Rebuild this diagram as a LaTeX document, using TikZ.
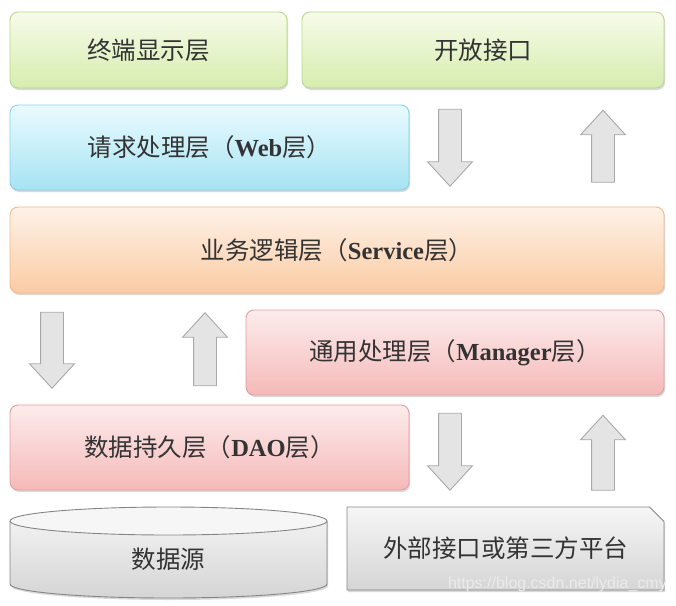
\documentclass[tikz,border=0pt]{standalone}
\usepackage{fontspec}
\setmainfont{Liberation Serif}
\newfontfamily\cjk{Noto Sans CJK SC}
\newfontfamily\wm{Liberation Sans}
\usetikzlibrary{shapes.arrows,shapes.misc,shadows}
\definecolor{txt}{HTML}{333333}
\definecolor{grnT}{HTML}{F7FBEA}
\definecolor{grnB}{HTML}{D6EDAE}
\definecolor{grnD}{HTML}{B9D88E}
\definecolor{bluT}{HTML}{EAFBFE}
\definecolor{bluB}{HTML}{A6E3F3}
\definecolor{bluD}{HTML}{8ACFE6}
\definecolor{orgT}{HTML}{FEF2E7}
\definecolor{orgB}{HTML}{FBCBA4}
\definecolor{orgD}{HTML}{F2B98C}
\definecolor{pnkT}{HTML}{FDECEC}
\definecolor{pnkB}{HTML}{F5B9B9}
\definecolor{pnkD}{HTML}{E29E9E}
\definecolor{gryT}{HTML}{F6F6F6}
\definecolor{gryB}{HTML}{D5D5D5}
\definecolor{gryD}{HTML}{858585}
\definecolor{arF}{HTML}{E4E4E4}
\definecolor{arD}{HTML}{A8A8A8}
\begin{document}
\begin{tikzpicture}[x=1pt,y=-1pt,
  layer/.style={rounded corners=8pt, line width=0.9pt, inner sep=0pt,
    drop shadow={shadow xshift=1.2pt, shadow yshift=-2pt, opacity=0.25, fill=black!60},
    font=\cjk\fontsize{24.5}{28}\selectfont, text=txt},
  green/.style={layer, draw=grnD, top color=grnT, bottom color=grnB},
  blue/.style={layer, draw=bluD, top color=bluT, bottom color=bluB},
  orange/.style={layer, draw=orgD, top color=orgT, bottom color=orgB},
  pink/.style={layer, draw=pnkD, top color=pnkT, bottom color=pnkB},
  flow/.style={single arrow, draw=arD, fill=arF, line width=0.9pt,
    inner xsep=0pt, inner ysep=11pt,
    single arrow head extend=11pt, single arrow tip angle=85},
]
\useasboundingbox (0,0) rectangle (676,605);

% layers
\node[green, minimum width=277pt, minimum height=76pt] (term) at (148.5,50) {终端显示层};
\node[green, minimum width=362pt, minimum height=76pt] (open) at (483,50) {开放接口};
\node[blue, minimum width=399pt, minimum height=85pt] (web) at (209.5,147.5)
  {请求处理层（{\rmfamily\bfseries Web}层）};
\node[orange, minimum width=654pt, minimum height=86pt] (svc) at (337,250)
  {业务逻辑层（{\rmfamily\bfseries Service}层）};
\node[pink, minimum width=418pt, minimum height=85pt] (mgr) at (455,352.5)
  {通用处理层（{\rmfamily\bfseries Manager}层）};
\node[pink, minimum width=399pt, minimum height=85pt] (dao) at (209.5,447.5)
  {数据持久层（{\rmfamily\bfseries DAO}层）};

% arrows
\node[flow, rotate=-90, minimum height=77pt] (a1) at (450,141.5) {};
\node[flow, rotate=90, minimum height=72pt] (a2) at (603,152.5) {};
\node[flow, rotate=-90, minimum height=76pt] (a3) at (52,344) {};
\node[flow, rotate=90, minimum height=73pt] (a4) at (205,355.5) {};
\node[flow, rotate=-90, minimum height=77pt] (a5) at (450,445.5) {};
\node[flow, rotate=90, minimum height=75pt] (a6) at (603,459) {};

% data source cylinder
\path[drop shadow={shadow xshift=1.2pt, shadow yshift=-2pt, opacity=0.25, fill=black!60},
      top color=gryT, bottom color=gryB]
  (10,521) -- (10,584) arc[start angle=180, end angle=360, x radius=158.5pt, y radius=14pt]
  -- (327,521) arc[start angle=0, end angle=180, x radius=158.5pt, y radius=14pt] -- cycle;
\draw[draw=gryD, line width=0.9pt]
  (10,521) -- (10,584) arc[start angle=180, end angle=360, x radius=158.5pt, y radius=14pt]
  -- (327,521);
\draw[draw=gryD, line width=0.9pt, fill=gryT] (168.5,521) ellipse[x radius=158.5pt, y radius=14pt];
\node[font=\cjk\fontsize{24.5}{28}\selectfont, text=txt] (ds) at (168.5,559) {数据源};

% external interface
\node[chamfered rectangle, chamfered rectangle corners=north east,
      chamfered rectangle xsep=13pt, draw=gryD, line width=0.9pt, inner sep=0pt,
      top color=gryT, bottom color=gryB,
      drop shadow={shadow xshift=1.2pt, shadow yshift=-2pt, opacity=0.25, fill=black!60},
      minimum width=317pt, minimum height=83pt,
      font=\cjk\fontsize{24.5}{28}\selectfont, text=txt] (ext) at (505.5,548.5) {外部接口或第三方平台};

% watermark
\node[anchor=east, inner sep=0pt, font=\wm\fontsize{16}{18}\selectfont, text=white!92!black] (wm) at (667,584)
  {https://blog.csdn.net/lydia\_cmy};
\end{tikzpicture}
\end{document}
